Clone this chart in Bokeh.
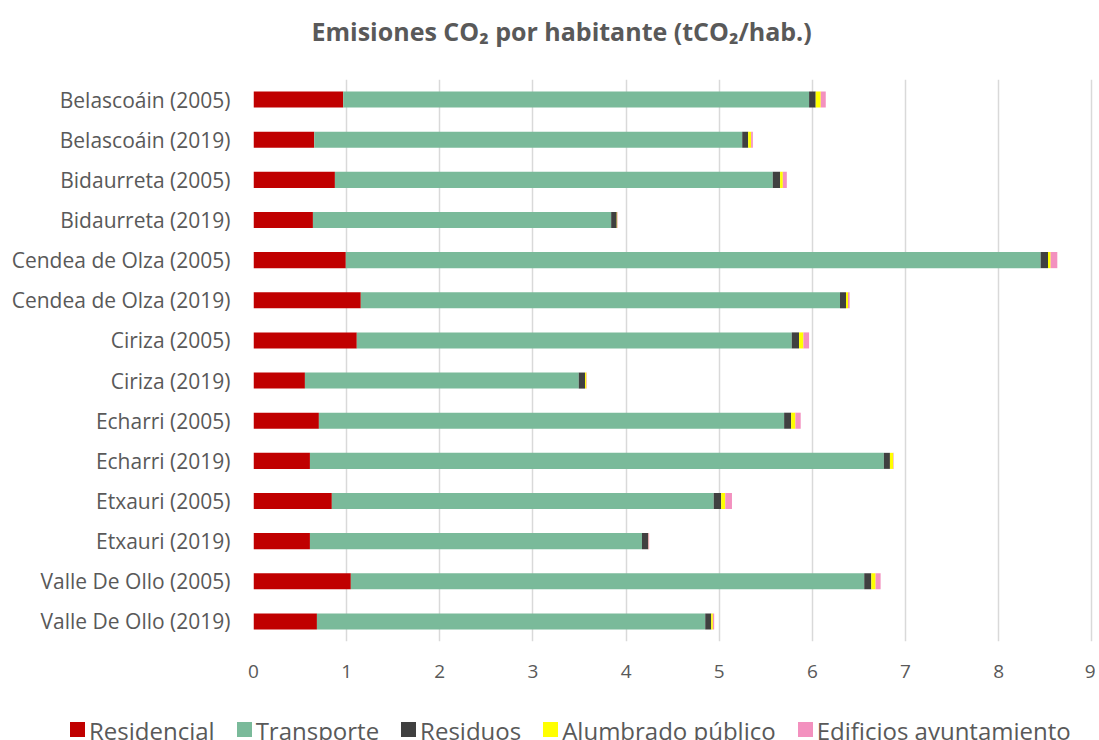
from bokeh.plotting import figure
from bokeh.layouts import column
from bokeh.models import ColumnDataSource, FactorRange, Range1d, SingleIntervalTicker, Title, Div
from bokeh.embed import file_html
from bokeh.resources import INLINE

categories = ["Belascoáin (2005)", "Belascoáin (2019)", "Bidaurreta (2005)", "Bidaurreta (2019)",
              "Cendea de Olza (2005)", "Cendea de Olza (2019)", "Ciriza (2005)", "Ciriza (2019)",
              "Echarri (2005)", "Echarri (2019)", "Etxauri (2005)", "Etxauri (2019)",
              "Valle De Ollo (2005)", "Valle De Ollo (2019)"]
residencial = [0.963, 0.652, 0.874, 0.638, 0.991, 1.152, 1.109, 0.552, 0.702, 0.606, 0.841, 0.606, 1.045, 0.681]
transporte = [5.002, 4.595, 4.701, 3.202, 7.460, 5.145, 4.670, 2.940, 4.995, 6.162, 4.100, 3.565, 5.512, 4.169]
residuos = [0.071, 0.064, 0.079, 0.060, 0.079, 0.064, 0.078, 0.068, 0.075, 0.065, 0.080, 0.068, 0.076, 0.064]
alumbrado = [0.054, 0.032, 0.029, 0.005, 0.028, 0.022, 0.047, 0.014, 0.046, 0.035, 0.044, 0.002, 0.046, 0.018]
edificios = [0.054, 0.018, 0.043, 0.005, 0.072, 0.017, 0.061, 0.005, 0.057, 0.005, 0.072, 0.007, 0.054, 0.014]

series = ["Residencial", "Transporte", "Residuos", "Alumbrado público", "Edificios ayuntamiento"]
colors = ["#C00000", "#7ABA9A", "#404040", "#FFFF00", "#F391BF"]
keys = ["res", "tra", "rsd", "alu", "edi"]

source = ColumnDataSource(dict(cat=categories, res=residencial, tra=transporte, rsd=residuos,
                               alu=alumbrado, edi=edificios))

TXT = "#595959"
FONT = "Open Sans"

p = figure(y_range=FactorRange(*reversed(categories)), x_range=Range1d(0, 9.04),
           frame_width=842, frame_height=562, min_border_left=253, min_border_top=79,
           min_border_right=0, min_border_bottom=64,
           output_backend="svg", toolbar_location=None)

p.hbar_stack(keys, y="cat", height=0.4, color=colors, line_color=None, source=source)

# white (invisible) spacer between the title and the plot area (first added = nearest the plot)
p.add_layout(Title(text=".", text_font_size="10px", text_color="#FFFFFF", standoff=22), "above")
p.add_layout(Title(text="Emisiones CO₂ por habitante (tCO₂/hab.)", align="left", offset=58,
                   text_font=FONT, text_font_size="25px", text_font_style="bold",
                   text_color=TXT, standoff=0), "above")

p.xaxis.ticker = SingleIntervalTicker(interval=1)
p.xaxis.axis_line_color = None
p.xaxis.major_tick_line_color = None
p.xaxis.minor_tick_line_color = None
p.xaxis.major_label_standoff = 17
p.xaxis.major_label_text_font = FONT
p.xaxis.major_label_text_font_size = "19px"
p.xaxis.major_label_text_color = TXT

p.yaxis.axis_line_color = None
p.yaxis.major_tick_line_color = None
p.yaxis.minor_tick_line_color = None
p.yaxis.major_label_standoff = 17
p.yaxis.major_label_text_font = FONT
p.yaxis.major_label_text_font_size = "21px"
p.yaxis.major_label_text_color = TXT

p.ygrid.grid_line_color = None
p.xgrid.grid_line_color = "#D9D9D9"
p.xgrid.grid_line_width = 1.5
p.outline_line_color = None

# legend strip below the chart, built from the series names and colours
items = "".join(
    f'<span style="display:inline-block;width:15px;height:15px;background:{c};'
    f'margin-right:4px;vertical-align:middle;position:relative;top:-1px"></span>'
    f'<span style="margin-right:22px;vertical-align:middle">{s}</span>'
    for s, c in zip(series, colors))
legend_html = (f'<div style="font-family:\'Open Sans\';font-size:24px;color:{TXT};'
               f'white-space:nowrap;padding-left:65px;padding-top:3px;line-height:30px">{items}</div>')
legend_div = Div(text=legend_html, width=1095, height=33)

open("out.html", "w").write(file_html(column(p, legend_div, spacing=0), INLINE))
